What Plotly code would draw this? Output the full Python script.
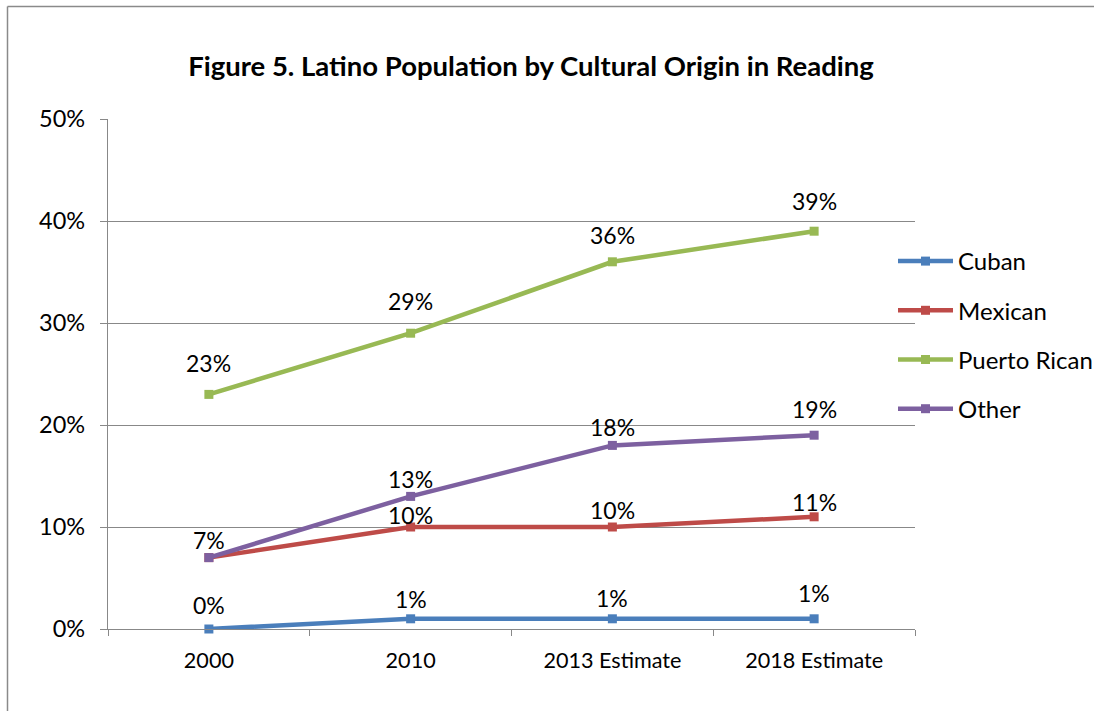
import plotly.graph_objects as go

# Data: share of the Latino population by cultural origin
categories = ["2000", "2010", "2013 Estimate", "2018 Estimate"]
cuban = [0.00, 0.01, 0.01, 0.01]
mexican = [0.07, 0.10, 0.10, 0.11]
puerto_rican = [0.23, 0.29, 0.36, 0.39]
other = [0.07, 0.13, 0.18, 0.19]

series_names = ["Cuban", "Mexican", "Puerto Rican", "Other"]
series_values = [cuban, mexican, puerto_rican, other]
series_colors = ["#4A7EBB", "#BE4B48", "#98B954", "#7D60A0"]

# Vertical lift (px) of each value label above its point
LABEL_LIFT = {
    "Cuban": [24, 20, 21, 26],
    "Mexican": [18, 12, 17, 15],
    "Puerto Rican": [31, 32, 27, 30],
    "Other": [18, 17, 18, 26],
}

FONT = "Lato"
GRID = "#888888"

fig = go.Figure()
annotations = []
placed = set()
for name, vals, color in zip(series_names, series_values, series_colors):
    fig.add_trace(go.Scatter(
        x=categories, y=vals, name=name, mode="lines+markers",
        line=dict(color=color, width=4.5),
        marker=dict(symbol="square", size=9, color=color),
        legendgroup=name,
        cliponaxis=False,
    ))
    # category axis positions are addressed by index for annotations
    for idx, (v, lift) in enumerate(zip(vals, LABEL_LIFT[name])):
        key = (idx, v, lift)
        if key in placed:  # identical label already drawn at this spot
            continue
        placed.add(key)
        annotations.append(dict(
            x=idx, y=v, xref="x", yref="y", text=f"{round(v * 100)}%",
            showarrow=False, yanchor="middle", xanchor="center", yshift=lift,
            font=dict(family=FONT, size=23, color="#000000"),
        ))

# Outer chart frame (left and top edges visible)
shapes = [
    dict(type="line", xref="paper", yref="paper",
         x0=(7.5 - 108) / 807, x1=(7.5 - 108) / 807,
         y0=-0.5, y1=(629 - 6.5) / 510,
         line=dict(color="#8A8A8A", width=1.5)),
    dict(type="line", xref="paper", yref="paper",
         x0=(7.5 - 108) / 807, x1=1.6,
         y0=(629 - 6.5) / 510, y1=(629 - 6.5) / 510,
         line=dict(color="#8A8A8A", width=1.5)),
]

fig.update_layout(
    width=1094, height=711,
    margin=dict(l=108, r=179, t=119, b=82, pad=0, autoexpand=False),
    paper_bgcolor="white", plot_bgcolor="white",
    font=dict(family=FONT, size=22, color="#000000"),
    title=dict(
        text="<b>Figure 5. Latino Population by Cultural Origin in Reading</b>",
        x=531 / 1094, xanchor="center", xref="container",
        y=1 - 66 / 711, yanchor="middle",
        font=dict(family=FONT, size=27.5, color="#000000"),
    ),
    xaxis=dict(
        type="category", range=[-0.5, 3.5],
        showline=True, linecolor=GRID, linewidth=1.3,
        ticks="outside", tickson="boundaries", ticklen=6, tickcolor=GRID, tickwidth=1.3,
        showgrid=False, zeroline=False,
        ticklabelstandoff=12,
        tickfont=dict(family=FONT, size=21.6, color="#000000"),
    ),
    yaxis=dict(
        range=[0, 0.5], tickvals=[0, 0.1, 0.2, 0.3, 0.4, 0.5], tickformat=".0%",
        showline=True, linecolor=GRID, linewidth=1.3,
        ticks="outside", ticklen=7, tickcolor=GRID, tickwidth=1.3,
        showgrid=True, gridcolor=GRID, gridwidth=1.3, zeroline=False,
        ticklabelstandoff=10,
        tickfont=dict(family=FONT, size=23.5, color="#000000"),
    ),
    legend=dict(
        x=(893 - 108) / 807, xanchor="left",
        y=(629 - 239) / 510, yanchor="top",
        bgcolor="rgba(0,0,0,0)", tracegroupgap=15,
        itemwidth=55,
        font=dict(family=FONT, size=24, color="#000000"),
    ),
    annotations=annotations,
    shapes=shapes,
)

fig.write_html("out.html")
